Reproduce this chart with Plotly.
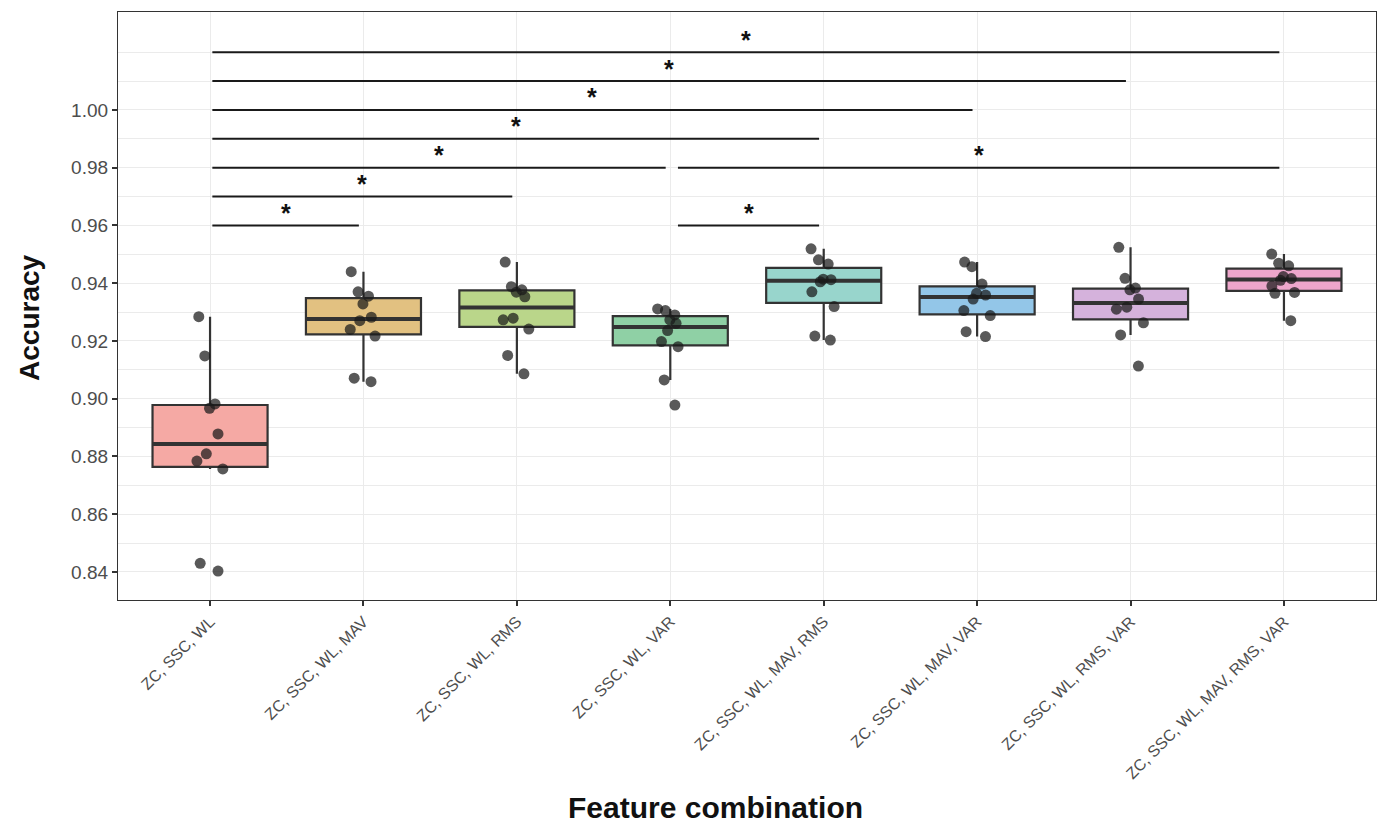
import numpy as np
import plotly.graph_objects as go

categories = [
    "ZC, SSC, WL",
    "ZC, SSC, WL, MAV",
    "ZC, SSC, WL, RMS",
    "ZC, SSC, WL, VAR",
    "ZC, SSC, WL, MAV, RMS",
    "ZC, SSC, WL, MAV, VAR",
    "ZC, SSC, WL, RMS, VAR",
    "ZC, SSC, WL, MAV, RMS, VAR",
]

acc_zc_ssc_wl = [0.9284, 0.9148, 0.8982, 0.8967, 0.8878, 0.8809, 0.8784, 0.8757, 0.8430, 0.8403]
acc_mav = [0.9440, 0.9370, 0.9355, 0.9328, 0.9282, 0.9270, 0.9240, 0.9217, 0.9071, 0.9059]
acc_rms = [0.9473, 0.9388, 0.9377, 0.9369, 0.9353, 0.9279, 0.9273, 0.9241, 0.9150, 0.9086]
acc_var = [0.9311, 0.9305, 0.9290, 0.9273, 0.9261, 0.9236, 0.9198, 0.9180, 0.9065, 0.8978]
acc_mav_rms = [0.9519, 0.9481, 0.9466, 0.9414, 0.9412, 0.9405, 0.9370, 0.9319, 0.9217, 0.9203]
acc_mav_var = [0.9473, 0.9457, 0.9397, 0.9365, 0.9359, 0.9345, 0.9305, 0.9288, 0.9232, 0.9215]
acc_rms_var = [0.9524, 0.9417, 0.9383, 0.9377, 0.9345, 0.9317, 0.9310, 0.9263, 0.9221, 0.9113]
acc_mav_rms_var = [0.9501, 0.9469, 0.9460, 0.9423, 0.9416, 0.9410, 0.9390, 0.9368, 0.9365, 0.9270]

series = [acc_zc_ssc_wl, acc_mav, acc_rms, acc_var, acc_mav_rms, acc_mav_var, acc_rms_var, acc_mav_rms_var]

fill_colors = ["#F5A9A4", "#E2C181", "#BAD68A", "#8FD0A5", "#98D5CC", "#93C6E8", "#D5B2DC", "#EDA6CB"]

# significance comparisons (category index pairs) and bar heights
sig_pairs = [(0, 1), (0, 2), (0, 3), (0, 4), (0, 5), (0, 6), (0, 7), (3, 4), (3, 7)]
sig_heights = [0.96, 0.97, 0.98, 0.99, 1.00, 1.01, 1.02, 0.96, 0.98]
sig_labels = ["*"] * 9

y_ticks = [0.84, 0.86, 0.88, 0.90, 0.92, 0.94, 0.96, 0.98, 1.00]
y_minor = [0.85, 0.87, 0.89, 0.91, 0.93, 0.95, 0.97, 0.99, 1.01, 1.02]

fig = go.Figure()
BOXW = 0.75

for i, (cat, vals, col) in enumerate(zip(categories, series, fill_colors)):
    v = np.array(vals)
    q1, med, q3 = np.percentile(v, [25, 50, 75])
    iqr = q3 - q1
    lo = v[v >= q1 - 1.5 * iqr].min()
    hi = v[v <= q3 + 1.5 * iqr].max()
    fig.add_trace(go.Box(
        x=[cat], q1=[q1], median=[med], q3=[q3], lowerfence=[lo], upperfence=[hi],
        width=BOXW, whiskerwidth=0, boxpoints=False,
        fillcolor=col, line=dict(color="#333333", width=2.2),
        showlegend=False, hoverinfo="skip",
    ))
    # thicker median line (ggplot fatten): a collapsed box drawn at the median
    fig.add_trace(go.Box(
        x=[cat], q1=[med], median=[med], q3=[med], lowerfence=[med], upperfence=[med],
        width=BOXW, whiskerwidth=0, boxpoints=False,
        fillcolor="rgba(0,0,0,0)", line=dict(color="#333333", width=4),
        showlegend=False, hoverinfo="skip",
    ))

for i, (cat, vals) in enumerate(zip(categories, series)):
    fig.add_trace(go.Box(
        x=[cat] * len(vals), y=vals, width=BOXW, boxpoints="all", jitter=0.3, pointpos=0,
        fillcolor="rgba(0,0,0,0)", line=dict(color="rgba(0,0,0,0)", width=0),
        marker=dict(color="rgba(25,25,25,0.72)", size=11, line=dict(width=0)),
        showlegend=False, hoverinfo="skip",
    ))

for (a, b), h, lab in zip(sig_pairs, sig_heights, sig_labels):
    x0 = a + (0.05 if a > 0 else 0.015)
    x1 = b - 0.03
    fig.add_shape(type="line", x0=x0, x1=x1, y0=h, y1=h, xref="x", yref="y",
                  line=dict(color="#1a1a1a", width=2))
    fig.add_annotation(x=(x0 + x1) / 2, y=h + 0.0043, text="<b>" + lab + "</b>", showarrow=False,
                       font=dict(size=25, color="#111111", family="Liberation Sans, Arial"),
                       xanchor="center", yanchor="middle")

# axis titles
fig.add_annotation(xref="paper", yref="paper", x=0.4746, y=-0.3537, text="<b>Feature combination</b>",
                   showarrow=False, xanchor="center", yanchor="middle",
                   font=dict(size=30, color="#111111"))
fig.add_annotation(xref="paper", yref="paper", x=-0.07, y=0.4813, text="<b>Accuracy</b>",
                   showarrow=False, xanchor="center", yanchor="middle", textangle=-90,
                   font=dict(size=28, color="#111111"))

fig.update_layout(
    width=1384, height=825,
    margin=dict(l=118, r=8, t=12, b=225),
    paper_bgcolor="white", plot_bgcolor="white",
    boxmode="overlay",
    font=dict(family="Liberation Sans, Arial, sans-serif"),
)
fig.update_xaxes(
    type="category", categoryorder="array", categoryarray=categories,
    range=[-0.6, 7.6], tickangle=-45,
    tickfont=dict(size=16, color="#4D4D4D"),
    showgrid=True, gridcolor="#EBEBEB", gridwidth=1.2,
    ticks="outside", ticklen=5, tickcolor="#333333", tickwidth=1.5,
    showline=True, mirror=True, linecolor="#333333", linewidth=1.2,
    zeroline=False,
)
fig.update_yaxes(
    range=[0.8303, 1.0339], tickvals=y_ticks, ticktext=["%.2f" % t for t in y_ticks],
    tickfont=dict(size=19, color="#4D4D4D"),
    showgrid=True, gridcolor="#EBEBEB", gridwidth=1.2,
    minor=dict(tickvals=y_minor, showgrid=True, gridcolor="#EBEBEB", gridwidth=0.8, ticks=""),
    ticks="outside", ticklen=5, tickcolor="#333333", tickwidth=1.5,
    showline=True, mirror=True, linecolor="#333333", linewidth=1.2,
    zeroline=False,
)

fig.write_html("out.html")
